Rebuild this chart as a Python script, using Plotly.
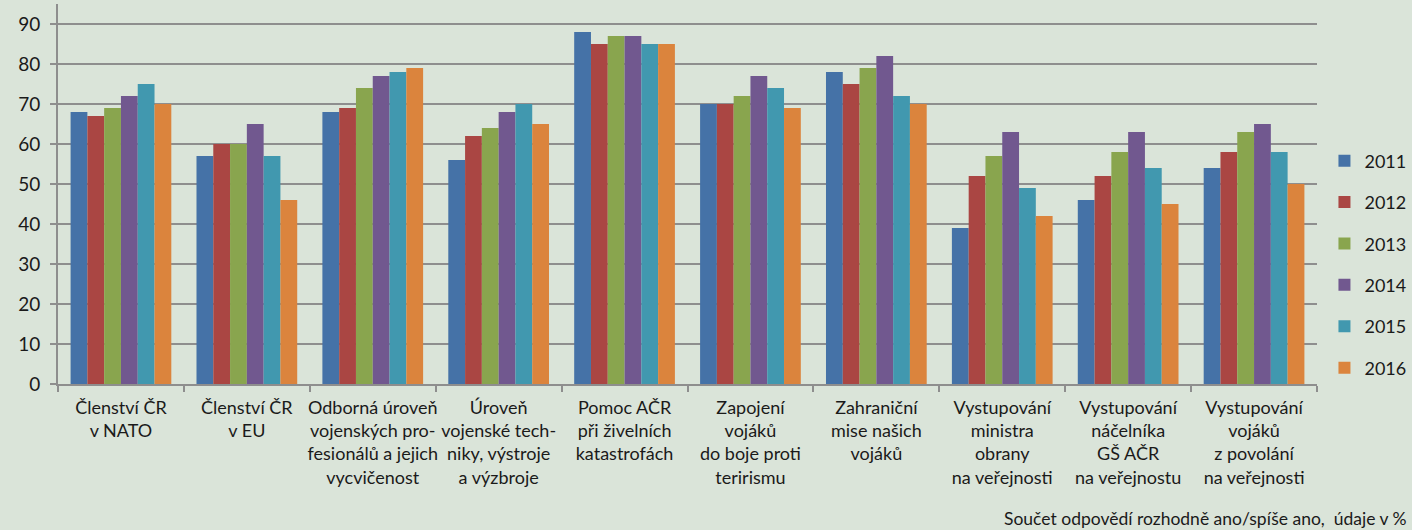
import plotly.graph_objects as go

categories = [
    "Členství ČR<br>v NATO",
    "Členství ČR<br>v EU",
    "Odborná úroveň<br>vojenských pro-<br>fesionálů a jejich<br>vycvičenost",
    "Úroveň<br>vojenské tech-<br>niky, výstroje<br>a výzbroje",
    "Pomoc AČR<br>při živelních<br>katastrofách",
    "Zapojení<br>vojáků<br>do boje proti<br>terirismu",
    "Zahraniční<br>mise našich<br>vojáků",
    "Vystupování<br>ministra<br>obrany<br>na veřejnosti",
    "Vystupování<br>náčelníka<br>GŠ AČR<br>na veřejnostu",
    "Vystupování<br>vojáků<br>z povolání<br>na veřejnosti",
]
years = ["2011", "2012", "2013", "2014", "2015", "2016"]
v2011 = [68, 57, 68, 56, 88, 70, 78, 39, 46, 54]
v2012 = [67, 60, 69, 62, 85, 70, 75, 52, 52, 58]
v2013 = [69, 60, 74, 64, 87, 72, 79, 57, 58, 63]
v2014 = [72, 65, 77, 68, 87, 77, 82, 63, 63, 65]
v2015 = [75, 57, 78, 70, 85, 74, 72, 49, 54, 58]
v2016 = [70, 46, 79, 65, 85, 69, 70, 42, 45, 50]
series = [v2011, v2012, v2013, v2014, v2015, v2016]
colors = ["#4572A7", "#AA4643", "#89A54E", "#71588F", "#4198AF", "#DB843D"]

bg = "#DAE4D9"
grid = "#8E8E8E"
font_family = "Lato, Open Sans, sans-serif"

fig = go.Figure()
for y, vals, c in zip(years, series, colors):
    fig.add_trace(go.Bar(
        name=y, x=categories, y=vals, marker_color=c,
        marker_line_width=0, legendgroup=y,
    ))

fig.update_layout(
    width=1412, height=530,
    paper_bgcolor=bg, plot_bgcolor=bg,
    margin=dict(l=58, r=95, t=4, b=146, autoexpand=False),
    barmode="group", bargap=0.2, bargroupgap=0,
    font=dict(family=font_family, size=18, color="#1a1a1a"),
    showlegend=True,
    legend=dict(
        xref="container", yref="container",
        x=0.938, y=0.501, xanchor="left", yanchor="middle",
        bgcolor="rgba(0,0,0,0)", font=dict(size=18),
        tracegroupgap=15, itemwidth=30,
    ),
    annotations=[dict(
        text="Součet odpovědí rozhodně ano/spíše ano,  údaje v %",
        xref="paper", yref="paper", x=1.073, y=-0.353,
        xanchor="right", yanchor="middle", showarrow=False,
        font=dict(size=17.5, family=font_family, color="#1a1a1a"),
    )],
)
fig.update_yaxes(
    range=[0, 95], tickvals=[0, 10, 20, 30, 40, 50, 60, 70, 80, 90],
    showgrid=True, gridcolor=grid, gridwidth=2,
    showline=True, linecolor=grid, linewidth=2,
    ticks="outside", ticklen=6, tickcolor=grid, tickwidth=2,
    zeroline=False, tickfont=dict(size=19), ticklabelstandoff=6,
)
fig.update_xaxes(
    showline=True, linecolor=grid, linewidth=2,
    ticks="outside", tickson="boundaries", ticklen=6, tickcolor=grid, tickwidth=2,
    tickfont=dict(size=18), tickangle=0, ticklabelstandoff=6,
)

fig.write_html(
    "out.html",
    config={"displayModeBar": False},
    post_script="document.body.style.margin='0';document.body.style.padding='0';document.body.style.overflow='hidden';",
)
